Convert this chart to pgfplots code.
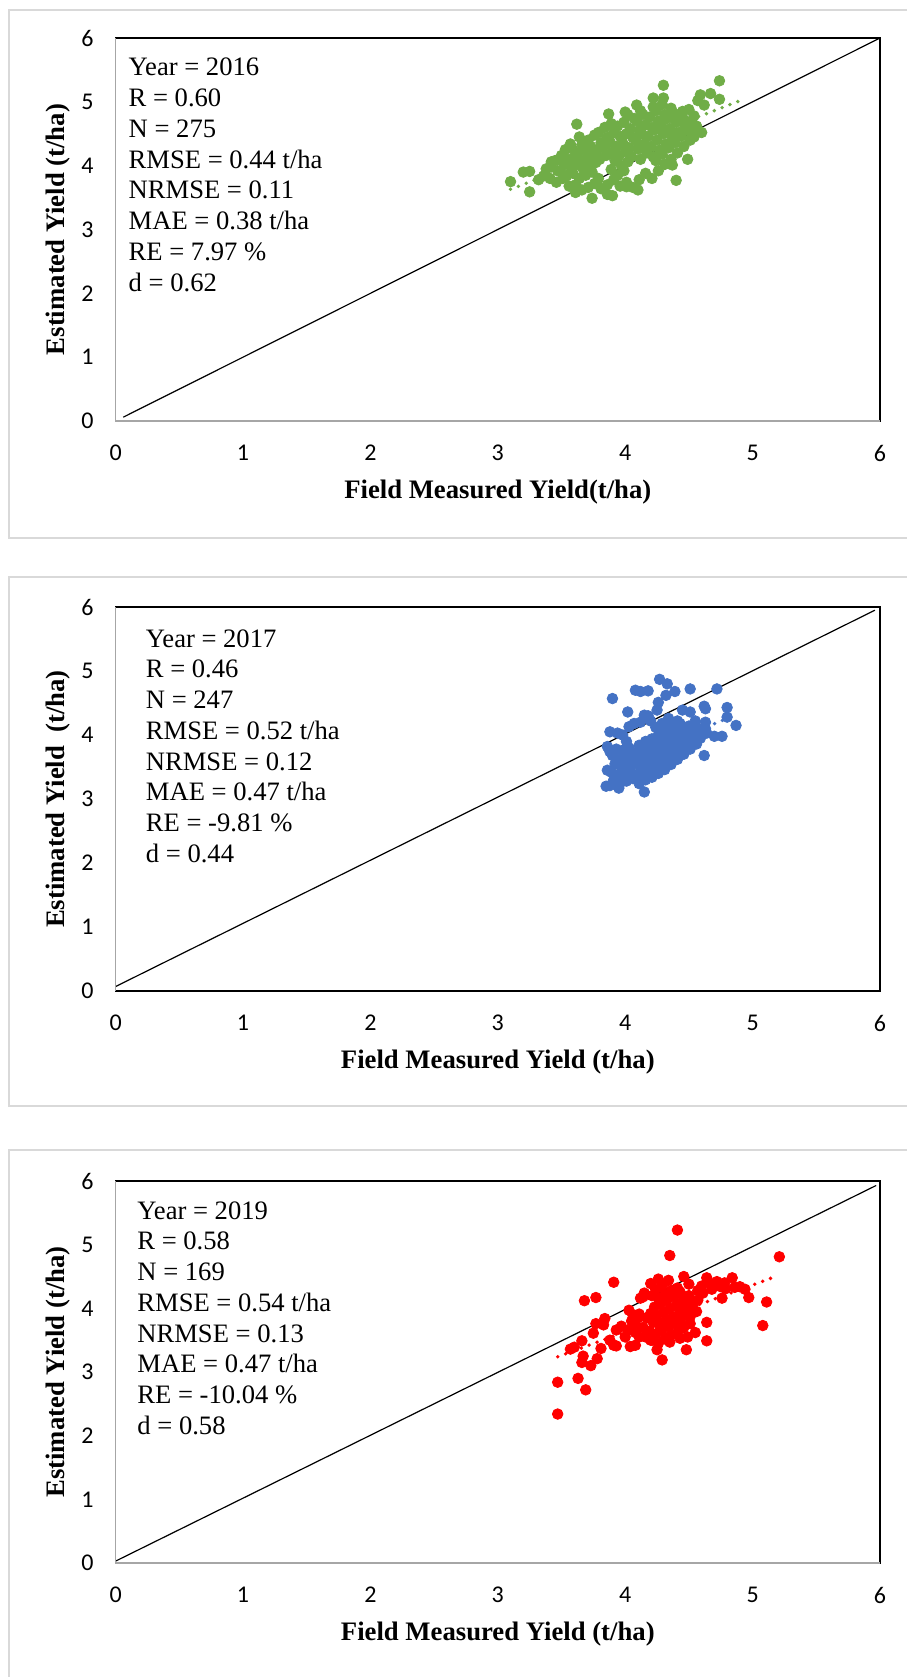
\documentclass[border=0pt]{standalone}
\usepackage{pgfplots}
\pgfplotsset{compat=1.18}
\usepackage{fontspec}
\setmainfont{Liberation Serif}
\newfontfamily\tickfont{Carlito}
\definecolor{cg}{HTML}{70AD47}
\definecolor{cb}{HTML}{4472C4}
\definecolor{cr}{HTML}{FF0000}
\definecolor{pframe}{HTML}{D9D9D9}
\definecolor{aframe}{HTML}{A6A6A6}
\newcommand\statfont{\fontsize{13.3}{15.4}\selectfont}
\newcommand\labfont{\fontsize{13.35}{15.4}\selectfont\bfseries}

\pgfplotsset{
  panel/.style={
    scale only axis, width=382.2pt, height=191.5pt,
    xmin=0, xmax=6, ymin=0, ymax=6,
    xtick={0,1,2,3,4,5,6}, ytick={0,1,2,3,4,5,6},
    major tick length=0pt,
    tick label style={font=\fontsize{12}{14}\selectfont\tickfont},
    /pgf/number format/assume math mode=true,
    xticklabel style={yshift=-8.5pt},
    yticklabel style={xshift=-7.5pt},
    axis line style={black, line width=0.9pt},
    clip=false,
    anchor=south west,
    xlabel style={font=\labfont, at={(rel axis cs:0.5,-0.185)}, anchor=center},
    ylabel style={font=\labfont, at={(rel axis cs:-0.0754,0.5)}, anchor=center, rotate=0},
  },
  pts/.style={only marks, mark=*, mark size=2.65pt, mark options={draw=#1, fill=#1}},
  trend/.style={#1, line width=1.9pt, line cap=round, dash pattern=on 0pt off 4.2pt},
  oneone/.style={black, line width=0.6pt},
}

\newcommand\stats[3]{%
  \foreach \t [count=\i from 0] in {#3} {
    \node[anchor=base west, inner sep=0pt, font=\statfont] at ({#1}, {#2-\i*15.375pt}) {\t};
  }%
}

\begin{document}
\begin{tikzpicture}
\useasboundingbox (0pt,0pt) rectangle (453pt,-838.5pt);
\fill[white] (0pt,0pt) rectangle (453pt,-838.5pt);
\draw[pframe, line width=0.8pt] (4.5pt,-5pt) rectangle (454pt,-269pt);
\draw[pframe, line width=0.8pt] (4.5pt,-288.5pt) rectangle (454pt,-553pt);
\draw[pframe, line width=0.8pt] (4.5pt,-575pt) rectangle (454pt,-842pt);

% ---------------- Panel 1: 2016 ----------------
\begin{axis}[panel, at={(57.8pt,-210.5pt)}, height=191.5pt,
  xlabel={Field Measured Yield(t/ha)}, ylabel={Estimated Yield (t/ha)}]
\addplot[pts=cg] coordinates {
(4.30,5.26) (4.74,5.33) (4.74,5.04) (4.67,5.13) (4.59,5.11) (3.62,4.65) (3.87,4.81)
(3.10,3.75) (3.25,3.59) (3.20,3.90) (3.25,3.91) (3.74,3.49) (3.86,3.55) (3.90,3.53)
(4.01,3.67) (4.10,3.62) (4.40,3.77) (4.49,4.10) (4.37,4.01) (3.61,3.58) (3.57,4.34)
(3.42,4.06) (3.32,3.78) (4.54,4.45) (4.52,4.50) (4.45,4.85) (4.09,4.95) (4.30,5.06)
(4.00,4.84) (4.22,5.06) (4.56,4.60) (4.60,4.52) (4.57,5.02) (4.62,4.95) (4.50,4.88)
(3.36,3.84) (3.38,3.95)
(3.41,3.80) (3.42,3.98)
(3.46,3.74) (3.47,3.92) (3.45,4.08)
(3.51,3.80) (3.49,3.92) (3.52,4.03) (3.50,4.16)
(3.56,3.68) (3.54,3.84) (3.57,3.98) (3.55,4.10) (3.53,4.25)
(3.61,3.70) (3.59,3.88) (3.62,4.02) (3.60,4.14) (3.58,4.28)
(3.66,3.62) (3.64,3.80) (3.67,3.95) (3.65,4.08) (3.63,4.20) (3.66,4.33) (3.64,4.45)
(3.71,3.66) (3.69,3.85) (3.72,4.00) (3.70,4.12) (3.68,4.26) (3.71,4.40)
(3.76,3.72) (3.74,3.90) (3.77,4.05) (3.75,4.18) (3.73,4.30) (3.76,4.48)
(3.81,3.64) (3.79,3.80) (3.80,4.10) (3.78,4.24) (3.81,4.36) (3.79,4.52)
(3.86,3.70) (3.85,4.16) (3.83,4.30) (3.86,4.44) (3.84,4.60)
(3.91,3.78) (3.89,3.94) (3.92,4.08) (3.90,4.22) (3.88,4.38) (3.91,4.52) (3.89,4.66)
(3.96,3.68) (3.94,3.85) (3.97,4.00) (3.95,4.15) (3.93,4.30) (3.96,4.46) (3.94,4.62)
(4.01,3.74) (3.99,3.92) (4.02,4.06) (4.00,4.22) (3.98,4.36) (4.01,4.50) (3.99,4.68) (4.02,4.80)
(4.06,3.66) (4.05,4.14) (4.03,4.28) (4.06,4.44) (4.04,4.58) (4.07,4.74)
(4.11,3.78) (4.12,4.10) (4.10,4.26) (4.08,4.40) (4.11,4.55) (4.09,4.70) (4.12,4.86)
(4.16,3.88) (4.17,4.20) (4.15,4.34) (4.13,4.50) (4.16,4.64) (4.14,4.80)
(4.21,3.80) (4.22,4.14) (4.20,4.30) (4.18,4.46) (4.21,4.60) (4.19,4.76) (4.22,4.92)
(4.26,3.92) (4.24,4.08) (4.27,4.24) (4.25,4.40) (4.23,4.56) (4.26,4.70) (4.24,4.86)
(4.31,4.02) (4.29,4.18) (4.32,4.34) (4.30,4.50) (4.28,4.64) (4.31,4.80) (4.29,4.96)
(4.36,4.10) (4.34,4.28) (4.37,4.44) (4.35,4.58) (4.33,4.74) (4.36,4.90)
(4.41,4.20) (4.39,4.36) (4.42,4.52) (4.40,4.68) (4.38,4.82)
(4.46,4.30) (4.44,4.46) (4.47,4.62) (4.45,4.76)
(4.51,4.40) (4.49,4.56) (4.52,4.70)
(4.56,4.62) (4.54,4.78)
};
\addplot[trend=cg] coordinates {(3.10,3.63) (4.93,5.04)};
\addplot[oneone] coordinates {(0.06,0.06) (6,6)};
\draw[aframe, line width=0.9pt] (rel axis cs:0,1) -- (rel axis cs:0,0) -- (rel axis cs:1,0);
\end{axis}
\stats{64.15pt}{-37.9pt}{Year = 2016, R = 0.60, N = 275, RMSE = 0.44 t/ha, NRMSE = 0.11, MAE = 0.38 t/ha, RE = 7.97 \%, d = 0.62}

% ---------------- Panel 2: 2017 ----------------
\begin{axis}[panel, at={(57.8pt,-495.5pt)}, height=192pt,
  xlabel={Field Measured Yield (t/ha)}, ylabel={Estimated Yield\ \ (t/ha)}]
\addplot[pts=cb] coordinates {
(4.27,4.87) (3.90,4.57) (4.08,4.70) (4.12,4.68) (4.18,4.69) (4.33,4.80) (4.39,4.68)
(4.51,4.72) (4.72,4.72) (4.32,4.62) (4.80,4.43) (4.87,4.15) (4.80,4.28) (4.62,4.45)
(4.63,4.41) (4.02,4.36) (4.15,4.31) (4.18,4.30) (4.26,4.51) (3.88,4.05) (3.86,3.82)
(3.85,3.20) (3.88,3.21) (3.95,3.17) (4.15,3.11) (3.86,3.45) (4.62,3.68) (4.76,3.98)
(4.70,3.98) (4.63,4.20) (4.63,4.10) (4.45,4.39) (4.51,4.36) (4.03,4.13) (4.07,4.18)
(4.25,4.39) (3.94,4.03) (4.64,4.03) (4.55,4.22) (3.88,3.74)
(3.98,4.00) (4.12,4.20) (4.20,4.22)
(3.91,3.30) (3.89,3.42) (3.92,3.55) (3.90,3.68)
(3.96,3.25) (3.94,3.38) (3.97,3.50) (3.95,3.62) (3.93,3.78)
(4.01,3.28) (3.99,3.40) (4.02,3.52) (4.00,3.64) (3.98,3.76) (4.01,3.90)
(4.06,3.32) (4.04,3.44) (4.07,3.56) (4.05,3.68) (4.03,3.80)
(4.11,3.24) (4.09,3.36) (4.12,3.48) (4.10,3.60) (4.08,3.72) (4.11,3.84)
(4.16,3.30) (4.14,3.42) (4.17,3.54) (4.15,3.66) (4.13,3.78) (4.16,3.90)
(4.21,3.34) (4.19,3.46) (4.22,3.58) (4.20,3.70) (4.18,3.82) (4.21,3.94)
(4.26,3.40) (4.24,3.52) (4.27,3.64) (4.25,3.76) (4.23,3.88) (4.26,4.00) (4.24,4.12)
(4.31,3.46) (4.29,3.58) (4.32,3.70) (4.30,3.82) (4.28,3.94) (4.31,4.06) (4.29,4.18)
(4.36,3.54) (4.34,3.66) (4.37,3.78) (4.35,3.90) (4.33,4.02) (4.36,4.14) (4.34,4.26)
(4.41,3.62) (4.39,3.74) (4.42,3.86) (4.40,3.98) (4.38,4.10) (4.41,4.22)
(4.46,3.70) (4.44,3.82) (4.47,3.94) (4.45,4.06) (4.43,4.18)
(4.51,3.78) (4.49,3.90) (4.52,4.02) (4.50,4.14)
(4.56,3.86) (4.54,3.98) (4.57,4.10)
(4.59,3.95) (4.61,4.06)
};
\addplot[trend=cb] coordinates {(3.85,3.47) (4.86,4.31)};
\addplot[oneone] coordinates {(0.0,0.07) (5.96,5.95)};
\draw[aframe, line width=0.9pt] (rel axis cs:0,1) -- (rel axis cs:0,0);
\end{axis}
\stats{72.75pt}{-323.5pt}{Year = 2017, R = 0.46, N = 247, RMSE = 0.52 t/ha, NRMSE = 0.12, MAE = 0.47 t/ha, RE = -9.81 \%, d = 0.44}

% ---------------- Panel 3: 2019 ----------------
\begin{axis}[panel, at={(57.8pt,-781.5pt)}, height=191pt,
  xlabel={Field Measured Yield (t/ha)}, ylabel={Estimated Yield (t/ha)}]
\addplot[pts=cr] coordinates {
(4.41,5.23) (4.35,4.83) (5.21,4.81) (3.91,4.41) (3.68,4.12) (3.77,4.17) (3.47,2.84)
(3.47,2.34) (3.63,2.90) (3.69,2.72) (5.08,3.73) (5.11,4.10) (4.97,4.17) (4.94,4.30)
(4.84,4.48) (4.76,4.16) (4.64,3.49) (4.55,3.62) (4.48,3.35) (4.29,3.19) (4.35,3.47)
(4.25,3.35) (4.04,3.40) (4.08,3.42) (3.91,3.42) (3.73,3.10) (3.66,3.15) (3.78,3.21)
(3.81,3.37) (3.66,3.49) (3.57,3.36) (3.60,3.39) (3.67,3.25) (3.77,3.76) (3.84,3.84)
(3.83,3.74) (3.75,3.61) (3.93,3.66) (4.00,3.55) (4.05,3.80) (4.11,3.91) (4.14,4.18)
(4.20,4.39) (4.26,4.46) (4.34,4.44) (4.46,4.50) (4.50,4.38) (4.64,4.48) (4.70,4.37)
(4.75,4.34) (4.79,4.31) (4.61,4.24) (4.57,4.13) (4.64,3.78) (4.51,3.87) (4.49,3.55)
(4.43,3.53) (4.03,3.97) (4.12,4.16) (4.15,4.24) (3.88,3.50) (3.93,3.41) (4.20,3.50)
(4.08,3.62) (4.11,3.55) (4.86,4.33) (4.90,4.34)
(4.16,3.55) (4.14,3.70) (4.17,3.85)
(4.21,3.50) (4.19,3.64) (4.22,3.78) (4.20,3.92) (4.21,4.20)
(4.26,3.45) (4.24,3.60) (4.27,3.74) (4.25,3.88) (4.23,4.02) (4.26,4.16) (4.24,4.30)
(4.31,3.52) (4.29,3.66) (4.32,3.80) (4.30,3.94) (4.28,4.08) (4.31,4.22) (4.29,4.36)
(4.36,3.58) (4.34,3.72) (4.37,3.86) (4.35,4.00) (4.33,4.14) (4.36,4.28)
(4.41,3.62) (4.39,3.76) (4.42,3.90) (4.40,4.04) (4.38,4.18) (4.41,4.32)
(4.46,3.70) (4.44,3.84) (4.47,3.98) (4.45,4.12) (4.43,4.26)
(4.51,3.76) (4.49,3.92) (4.52,4.06) (4.50,4.20)
(4.56,3.95) (4.54,4.10) (4.57,4.28)
(3.97,3.72) (4.02,3.65) (4.08,3.75) (4.10,3.85) (4.06,3.90)
(4.66,4.40) (4.72,4.42) (4.68,4.30) (4.60,4.35) (4.78,4.40)
};
\addplot[trend=cr] coordinates {(3.47,3.24) (5.18,4.50)};
\addplot[oneone] coordinates {(0.0,0.03) (5.97,5.93)};
\draw[aframe, line width=0.9pt] (rel axis cs:0,1) -- (rel axis cs:0,0) -- (rel axis cs:1,0);
\end{axis}
\stats{68.5pt}{-609.5pt}{Year = 2019, R = 0.58, N = 169, RMSE = 0.54 t/ha, NRMSE = 0.13, MAE = 0.47 t/ha, RE = -10.04 \%, d = 0.58}
\end{tikzpicture}
\end{document}
